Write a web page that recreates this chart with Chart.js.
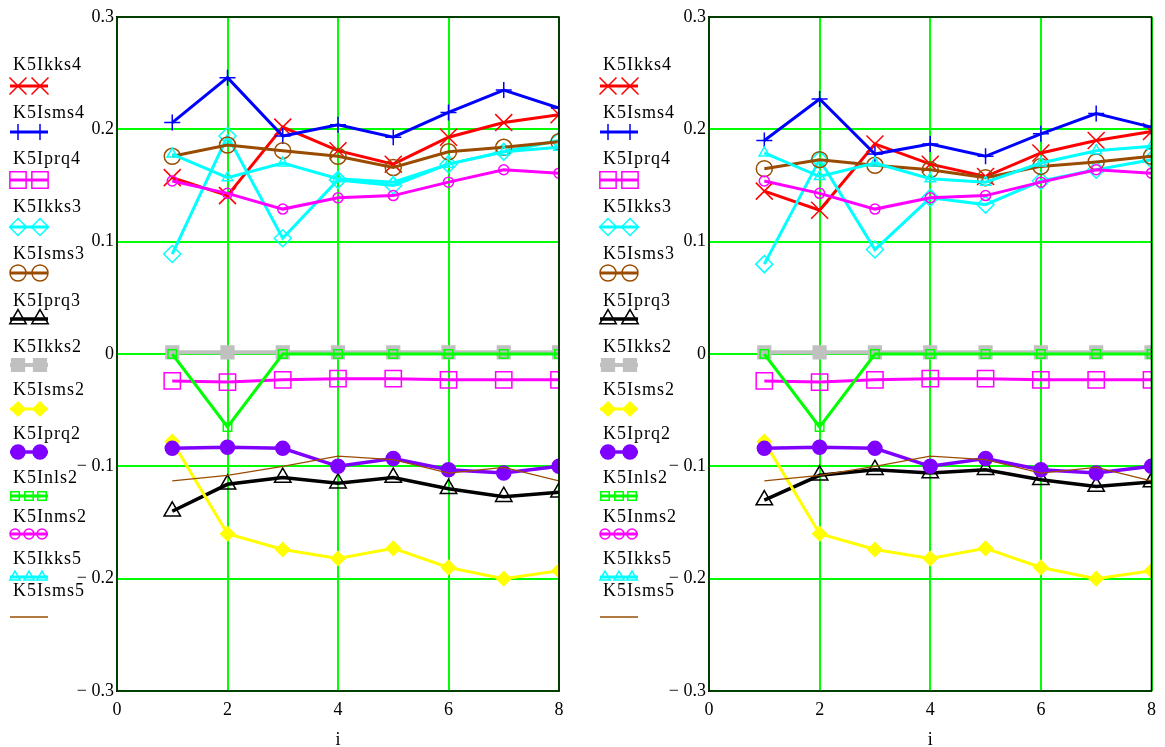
<!DOCTYPE html>
<html>
<head>
<meta charset="utf-8">
<script src="https://cdn.jsdelivr.net/npm/chart.js@4/dist/chart.umd.min.js"></script>
<style>
  html, body { margin: 0; padding: 0; background: #fff; }
  body { width: 1165px; height: 747px; position: relative; overflow: hidden; }
  canvas { position: absolute; top: 0; }
</style>
</head>
<body>
<canvas id="leftChart" width="590" height="747" style="left:0px"></canvas>
<canvas id="rightChart" width="575" height="747" style="left:590px"></canvas>
<script>
// i = 1..8
var idx = [1, 2, 3, 4, 5, 6, 7, 8];
var names = ['K5Ikks4', 'K5Isms4', 'K5Iprq4', 'K5Ikks3', 'K5Isms3', 'K5Iprq3', 'K5Ikks2',
             'K5Isms2', 'K5Iprq2', 'K5Inls2', 'K5Inms2', 'K5Ikks5', 'K5Isms5'];
var yTicks = [-0.3, -0.2, -0.1, 0, 0.1, 0.2, 0.3];
var xTicks = [0, 2, 4, 6, 8];

// series shared by both plots
var k5Iprq4 = [-0.024, -0.025, -0.023, -0.022, -0.022, -0.023, -0.023, -0.023];
var k5Ikks2 = [0.0015, 0.0015, 0.0015, 0.0015, 0.0015, 0.0015, 0.0015, 0.0015];
var k5Isms2 = [-0.078, -0.160, -0.174, -0.182, -0.173, -0.190, -0.200, -0.193];
var k5Iprq2 = [-0.084, -0.083, -0.084, -0.100, -0.093, -0.103, -0.106, -0.100];
var k5Inls2 = [0, -0.065, 0, 0, 0, 0, 0, 0];
var k5Inms2 = [0.154, 0.143, 0.129, 0.139, 0.141, 0.153, 0.164, 0.161];
var k5Isms5 = [-0.113, -0.108, -0.100, -0.091, -0.094, -0.106, -0.101, -0.113];

// left plot
var k5Ikks4A = [0.157, 0.141, 0.202, 0.181, 0.169, 0.193, 0.206, 0.213];
var k5Isms4A = [0.206, 0.246, 0.194, 0.204, 0.193, 0.215, 0.235, 0.219];
var k5Ikks3A = [0.089, 0.194, 0.103, 0.155, 0.150, 0.169, 0.180, 0.190];
var k5Isms3A = [0.176, 0.186, 0.181, 0.176, 0.166, 0.180, 0.184, 0.189];
var k5Iprq3A = [-0.140, -0.116, -0.110, -0.115, -0.110, -0.120, -0.127, -0.123];
var k5Ikks5A = [0.178, 0.157, 0.170, 0.156, 0.153, 0.169, 0.180, 0.184];

// right plot
var k5Ikks4B = [0.145, 0.128, 0.187, 0.169, 0.158, 0.179, 0.190, 0.198];
var k5Isms4B = [0.190, 0.227, 0.178, 0.187, 0.176, 0.196, 0.214, 0.202];
var k5Ikks3B = [0.080, 0.173, 0.093, 0.139, 0.133, 0.154, 0.164, 0.173];
var k5Isms3B = [0.165, 0.173, 0.168, 0.164, 0.157, 0.167, 0.171, 0.176];
var k5Iprq3B = [-0.130, -0.108, -0.103, -0.106, -0.103, -0.112, -0.118, -0.114];
var k5Ikks5B = [0.179, 0.158, 0.170, 0.156, 0.153, 0.170, 0.181, 0.185];

// trace styles (mathcad look)
var colors = ['#ff0000', '#0000ff', '#ff00ff', '#00ffff', '#994c00', '#000000', '#c0c0c0',
              '#ffff00', '#8000ff', '#00ff00', '#ff00ff', '#00ffff', '#994c00'];
var markers = ['crossRot', 'cross', 'rect', 'rectRot', 'circle', 'triangle', 'rect',
               'rectRot', 'circle', 'rect', 'circle', 'triangle', false];
var markerSize = [12, 8, 11.5, 8.5, 8, 9.5, 9, 7, 7, 6, 5, 6, 0];
var markerFilled = [false, false, false, false, false, false, true, true, true, false, false, false, false];
var lineWidths = [3, 3, 3, 3, 3, 3.5, 4, 3, 3.5, 3, 3, 3, 1.3];
var legendMarks = [2, 2, 2, 2, 2, 2, 2, 2, 2, 3, 3, 3, 0];

// legend rows (baseline of the name, centre of the sample line)
var legendTextY = [70, 118, 164, 212, 259, 306, 352, 395, 439, 483, 522, 564, 596];
var legendLineY = [86, 132, 180, 227, 273, 319, 365, 409, 452, 496, 534, 577, 617];

function makeDatasets(series) {
    return series.map(function (vals, i) {
        return {
            label: names[i],
            data: vals.map(function (v, j) { return { x: idx[j], y: v }; }),
            borderColor: colors[i],
            borderWidth: lineWidths[i],
            pointStyle: markers[i],
            pointRadius: markerSize[i],
            pointHoverRadius: markerSize[i],
            pointBorderColor: colors[i],
            pointBackgroundColor: markerFilled[i] ? colors[i] : 'rgba(0,0,0,0)',
            pointBorderWidth: 1.5,
            legendMarks: legendMarks[i],
            tension: 0,
            fill: false,
            order: names.length - 1 - i
        };
    });
}

function fmtY(v) {
    var r = Math.round(v * 10) / 10;
    if (r === 0) return '0';
    if (r < 0) return '\u2212 ' + Math.abs(r).toFixed(1);
    return r.toFixed(1);
}

// green grid drawn under the traces
var mathcadGrid = {
    id: 'mathcadGrid',
    beforeDatasetsDraw: function (chart) {
        var ctx = chart.ctx, a = chart.chartArea;
        var xs = chart.scales.x, ys = chart.scales.y;
        ctx.save();
        ctx.strokeStyle = '#00ff00';
        ctx.lineWidth = 2;
        ctx.beginPath();
        xs.ticks.forEach(function (t) {
            var px = Math.round(xs.getPixelForValue(t.value));
            ctx.moveTo(px, a.top);
            ctx.lineTo(px, a.bottom);
        });
        ys.ticks.forEach(function (t) {
            var py = Math.round(ys.getPixelForValue(t.value));
            ctx.moveTo(a.left, py);
            ctx.lineTo(a.right, py);
        });
        ctx.stroke();
        ctx.restore();
    }
};

var mathcadLegend = {
    id: 'mathcadLegend',
    afterDraw: function (chart) {
        var ctx = chart.ctx, a = chart.chartArea;
        ctx.save();
        // plot frame
        ctx.strokeStyle = '#000';
        ctx.lineWidth = 1.5;
        ctx.strokeRect(a.left, a.top, a.right - a.left, a.bottom - a.top);

        // x axis name
        ctx.font = "18px 'Liberation Serif'";
        ctx.fillStyle = '#000';
        ctx.textAlign = 'center';
        ctx.textBaseline = 'middle';
        ctx.fillText('i', (a.left + a.right) / 2, 740);

        // legend on the left
        ctx.textAlign = 'left';
        ctx.textBaseline = 'alphabetic';
        ctx.letterSpacing = '1px';
        chart.data.datasets.forEach(function (ds, i) {
            ctx.fillStyle = '#000';
            ctx.fillText(ds.label, 13, legendTextY[i]);
            var y = legendLineY[i];
            ctx.strokeStyle = ds.borderColor;
            ctx.lineWidth = ds.borderWidth;
            ctx.beginPath();
            ctx.moveTo(10, y);
            ctx.lineTo(48, y);
            ctx.stroke();
            if (ds.pointStyle && ds.legendMarks > 0) {
                var xs = ds.legendMarks === 3 ? [15, 29, 42] : [18, 40];
                xs.forEach(function (x) {
                    ctx.strokeStyle = ds.pointBorderColor;
                    ctx.fillStyle = ds.pointBackgroundColor;
                    ctx.lineWidth = ds.pointBorderWidth;
                    Chart.helpers.drawPoint(ctx, {
                        pointStyle: ds.pointStyle,
                        radius: ds.pointRadius,
                        rotation: 0,
                        borderWidth: ds.pointBorderWidth
                    }, x, y);
                });
            }
        });
        ctx.restore();
    }
};

Chart.defaults.font.family = "'Liberation Serif', 'Times New Roman', serif";
Chart.defaults.font.size = 18;
Chart.defaults.color = '#000';

function makeChart(id, series, yWidth, padRight) {
    return new Chart(document.getElementById(id), {
        type: 'line',
        data: { datasets: makeDatasets(series) },
        options: {
            responsive: false,
            animation: false,
            devicePixelRatio: 1,
            events: [],
            layout: { padding: { left: 0, right: padRight, top: 17, bottom: 0 } },
            plugins: { legend: { display: false }, tooltip: { enabled: false } },
            scales: {
                x: {
                    type: 'linear',
                    min: 0,
                    max: 8,
                    afterBuildTicks: function (s) { s.ticks = xTicks.map(function (v) { return { value: v }; }); },
                    afterFit: function (s) { s.height = 56; },
                    grid: { display: false, drawTicks: false },
                    border: { color: '#000', width: 1.5 },
                    ticks: { padding: 8, maxRotation: 0 }
                },
                y: {
                    type: 'linear',
                    min: -0.3,
                    max: 0.3,
                    afterBuildTicks: function (s) { s.ticks = yTicks.map(function (v) { return { value: v }; }); },
                    afterFit: function (s) { s.width = yWidth; },
                    grid: { display: false, drawTicks: false },
                    border: { color: '#000', width: 1.5 },
                    ticks: { padding: 3, callback: fmtY }
                }
            }
        },
        plugins: [mathcadGrid, mathcadLegend]
    });
}

var leftChart = makeChart('leftChart',
    [k5Ikks4A, k5Isms4A, k5Iprq4, k5Ikks3A, k5Isms3A, k5Iprq3A, k5Ikks2,
     k5Isms2, k5Iprq2, k5Inls2, k5Inms2, k5Ikks5A, k5Isms5], 117, 31);

var rightChart = makeChart('rightChart',
    [k5Ikks4B, k5Isms4B, k5Iprq4, k5Ikks3B, k5Isms3B, k5Iprq3B, k5Ikks2,
     k5Isms2, k5Iprq2, k5Inls2, k5Inms2, k5Ikks5B, k5Isms5], 119, 10);
</script>
</body>
</html>
